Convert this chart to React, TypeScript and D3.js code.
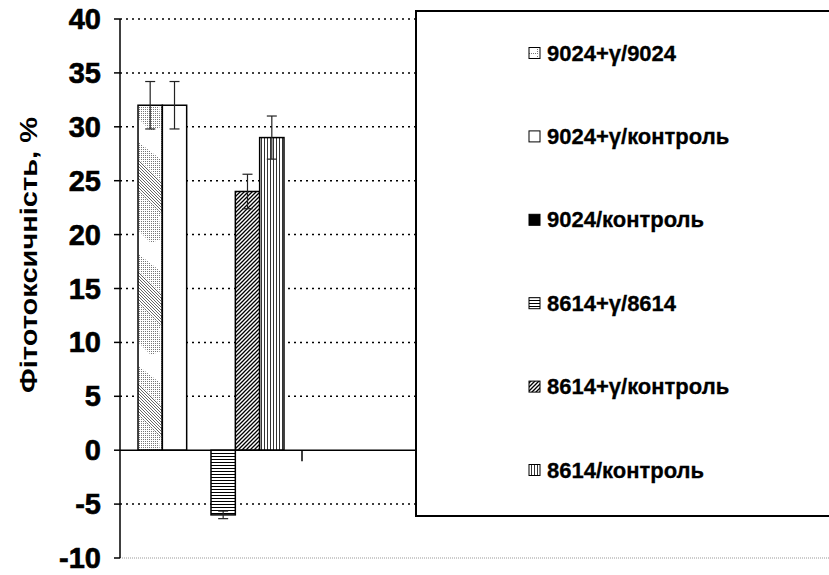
import React from 'react';
import * as d3 from 'd3';

// ---- data ----
const categories = ['1', '2', '3', '4'];
const seriesNames = [
  '9024+γ/9024',
  '9024+γ/контроль',
  '9024/контроль',
  '8614+γ/8614',
  '8614+γ/контроль',
  '8614/контроль',
];
// values for the first category (other categories are empty)
const seriesValues = [32, 32, 0, -6, 24, 29];
const seriesErrors = [2.2, 2.2, 0, 0.35, 1.6, 2.0];
const yTicks = [-10, -5, 0, 5, 10, 15, 20, 25, 30, 35, 40];
const yTitle = 'Фітотоксичність, %';

const W = 829;
const H = 575;
const FONT = '"Liberation Sans", Arial, Helvetica, sans-serif';

const fills = ['url(#p1)', '#ffffff', '#000000', 'url(#pH)', 'url(#pD)', 'url(#pV)'];

export default function App() {
  const plotL = 120;
  const plotR = 848;
  const y = d3.scaleLinear().domain([-10, 40]).range([558, 19]);
  const x0 = d3.scaleBand<string>().domain(categories).range([plotL, plotR]);
  const bw0 = x0.bandwidth();
  const gpad = bw0 * 0.099;
  const x1 = d3.scaleBand<string>().domain(seriesNames).range([gpad, bw0 - gpad]);
  const bw = x1.bandwidth();
  const cat = categories[0];

  const legL = 416;
  const legT = 11;
  const legB = 516;
  const legY = d3.scalePoint<string>().domain(seriesNames).range([53, 470]);

  return (
    <svg
      width={W}
      height={H}
      style={{ position: 'absolute', left: 0, top: 0, display: 'block', background: '#fff' }}
    >
      <defs>
        <pattern id="pDots" width="2" height="2" patternUnits="userSpaceOnUse">
          <rect width="2" height="2" fill="#fff" />
          <rect x="0" y="0" width="1" height="1" fill="#777" />
        </pattern>
        <pattern id="pFine" width="3" height="3" patternUnits="userSpaceOnUse">
          <rect width="3" height="3" fill="#fff" />
          <path d="M-1,-1 L4,4 M-1,2 L1,4 M2,-1 L4,1" stroke="#555" strokeWidth="0.9" />
        </pattern>
        <pattern id="p1" width="26" height="112" patternUnits="userSpaceOnUse" x="137" y="105">
          <rect width="26" height="112" fill="#fff" />
          <polygon points="0,0 22,0 24,22 14,26 0,12" fill="url(#pDots)" />
          <polygon points="0,36 0,112 26,136 26,56" fill="url(#pDots)" />
          <polygon points="0,52 0,84 26,110 26,78" fill="url(#pFine)" />
          <polygon points="0,-60 0,-28 26,-2 26,-34" fill="url(#pFine)" />
          <line x1="24.5" y1="0" x2="24.5" y2="112" stroke="#777" strokeWidth="1" strokeDasharray="1 1" />
        </pattern>
        <pattern id="pH" width="4" height="3" patternUnits="userSpaceOnUse">
          <rect width="4" height="3" fill="#fff" />
          <line x1="0" y1="0.5" x2="4" y2="0.5" stroke="#000" strokeWidth="1" />
        </pattern>
        <pattern id="pD" width="4" height="4" patternUnits="userSpaceOnUse">
          <rect width="4" height="4" fill="#fff" />
          <path d="M-1,1 L1,-1 M0,4 L4,0 M3,5 L5,3" stroke="#000" strokeWidth="1.3" />
        </pattern>
        <pattern id="pV" width="3" height="4" patternUnits="userSpaceOnUse">
          <rect width="3" height="4" fill="#fff" />
          <line x1="0.5" y1="0" x2="0.5" y2="4" stroke="#333" strokeWidth="1" />
        </pattern>
        <pattern id="pLeg1" width="11" height="11" patternUnits="userSpaceOnUse">
          <rect width="11" height="11" fill="#fff" />
          <line x1="9.5" y1="1" x2="9.5" y2="10" stroke="#777" strokeDasharray="1 1" />
          <line x1="1" y1="9.5" x2="10" y2="9.5" stroke="#777" strokeDasharray="1 1" />
        </pattern>
      </defs>

      {/* gridlines */}
      {yTicks.map((t) =>
        t === 0 ? null : (
          <line
            key={'g' + t}
            x1={plotL}
            x2={plotR}
            y1={y(t)}
            y2={y(t)}
            stroke={t === -10 ? '#999' : '#000'}
            strokeWidth={t === -10 ? 1 : 1.5}
            strokeDasharray={t === -10 ? '1 1' : '2 4'}
          />
        )
      )}

      {/* bars */}
      {seriesNames.map((s, i) => {
        const v = seriesValues[i];
        const bx = (x0(cat) as number) + (x1(s) as number);
        const top = y(Math.max(0, v));
        const bot = y(Math.min(0, v));
        return (
          <rect
            key={'b' + i}
            x={bx}
            y={top}
            width={bw}
            height={Math.max(0, bot - top)}
            fill={fills[i]}
            stroke="#000"
            strokeWidth={1.5}
          />
        );
      })}

      {/* error bars */}
      {seriesNames.map((s, i) => {
        const v = seriesValues[i];
        const e = seriesErrors[i];
        if (!e) return null;
        const cx = (x0(cat) as number) + (x1(s) as number) + bw / 2;
        const yt = y(v + e);
        const yb = y(v - e);
        return (
          <g key={'e' + i} stroke="#222" strokeWidth={1.2}>
            <line x1={cx} x2={cx} y1={yt} y2={yb} />
            <line x1={cx - 5} x2={cx + 5} y1={yt} y2={yt} />
            <line x1={cx - 5} x2={cx + 5} y1={yb} y2={yb} />
          </g>
        );
      })}

      {/* x axis */}
      <line x1={plotL} x2={plotR} y1={y(0)} y2={y(0)} stroke="#000" strokeWidth={1.5} />
      {categories.slice(1).map((c) => (
        <line
          key={'xt' + c}
          x1={x0(c) as number}
          x2={x0(c) as number}
          y1={y(0)}
          y2={y(0) + 11}
          stroke="#000"
          strokeWidth={1.5}
        />
      ))}

      {/* y axis */}
      <line x1={plotL} x2={plotL} y1={y(40)} y2={y(-10)} stroke="#000" strokeWidth={1.5} />
      {yTicks.map((t) => (
        <g key={'yt' + t}>
          <line x1={plotL - 6} x2={plotL} y1={y(t)} y2={y(t)} stroke="#000" strokeWidth={1.5} />
          <text
            x={101}
            y={y(t)}
            textAnchor="end"
            dominantBaseline="central"
            fontFamily={FONT}
            fontWeight="bold"
            fontSize={29}
            stroke="#000"
            strokeWidth={0.6}
            fill="#000"
          >
            {t}
          </text>
        </g>
      ))}

      {/* y title */}
      <text
        transform={`translate(29,${(116 + 394) / 2}) rotate(-90)`}
        textAnchor="middle"
        dominantBaseline="central"
        fontFamily={FONT}
        fontWeight="bold"
        fontSize={23}
        textLength={276}
        lengthAdjust="spacingAndGlyphs"
        fill="#000"
      >
        {yTitle}
      </text>

      {/* legend */}
      <rect
        x={legL}
        y={legT}
        width={W - legL + 20}
        height={legB - legT}
        fill="#fff"
        stroke="#000"
        strokeWidth={2}
      />
      {seriesNames.map((s, i) => {
        const cy = legY(s) as number;
        return (
          <g key={'l' + i}>
            <rect
              x={529}
              y={cy - 5.5}
              width={11}
              height={11}
              fill={i === 0 ? 'url(#pLeg1)' : fills[i]}
              stroke="#000"
              strokeWidth={1}
            />
            <text
              x={547}
              y={cy}
              dominantBaseline="central"
              fontFamily={FONT}
              fontWeight="bold"
              fontSize={22}
              stroke="#000"
              strokeWidth={0.3}
              fill="#000"
            >
              {s}
            </text>
          </g>
        );
      })}
    </svg>
  );
}
